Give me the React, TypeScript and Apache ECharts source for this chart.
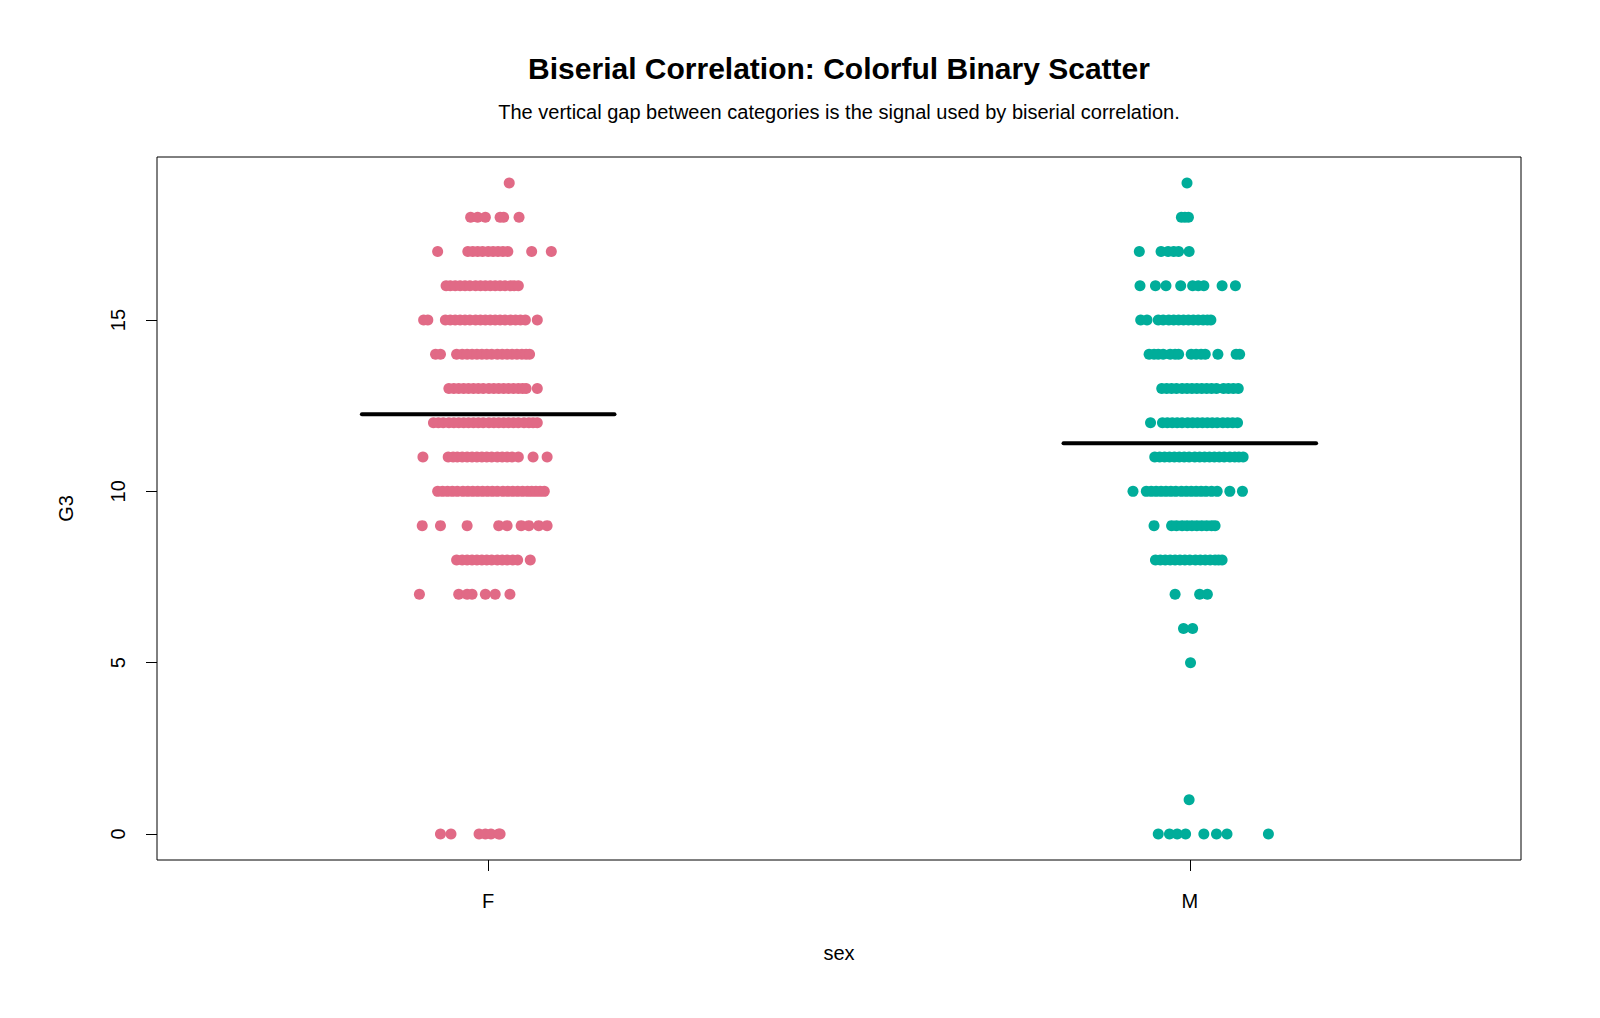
import React, { useEffect, useRef } from "react";
import * as echarts from "echarts";

// Categories and their positions on the x scale
const categories = ["F", "M"];
const categoryPositions = [1, 2];

// Final grade levels present in each group
const gradesF = [19, 18, 17, 16, 15, 14, 13, 12, 11, 10, 9, 8, 7, 0];
const gradesM = [19, 18, 17, 16, 15, 14, 13, 12, 11, 10, 9, 8, 7, 6, 5, 1, 0];

// Horizontal jitter of each plotted point, per grade level (offset from the category position)
const jitterF = [
  [0.03],
  [-0.025, -0.015, -0.004, 0.017, 0.022, 0.044],
  [-0.072, -0.029, -0.022, -0.015, -0.008, 0.0, 0.007, 0.014, 0.021, 0.028, 0.062, 0.09],
  [-0.06, -0.054, -0.047, -0.04, -0.033, -0.026, -0.018, -0.011, -0.004, 0.003, 0.01, 0.017, 0.024, 0.032, 0.037, 0.043],
  [-0.092, -0.086, -0.061, -0.054, -0.047, -0.04, -0.033, -0.026, -0.018, -0.011, -0.004, 0.003, 0.01, 0.017, 0.024, 0.032, 0.039, 0.046, 0.053, 0.07],
  [-0.075, -0.068, -0.045, -0.037, -0.03, -0.023, -0.016, -0.009, -0.002, 0.005, 0.013, 0.02, 0.027, 0.034, 0.041, 0.048, 0.054, 0.059],
  [-0.056, -0.049, -0.042, -0.035, -0.028, -0.021, -0.014, -0.007, 0.001, 0.008, 0.015, 0.022, 0.029, 0.036, 0.043, 0.049, 0.054, 0.07],
  [-0.078, -0.071, -0.064, -0.056, -0.049, -0.042, -0.035, -0.028, -0.021, -0.014, -0.007, 0.001, 0.008, 0.015, 0.022, 0.029, 0.036, 0.043, 0.051, 0.058, 0.064, 0.07],
  [-0.093, -0.057, -0.05, -0.044, -0.037, -0.03, -0.023, -0.016, -0.009, -0.002, 0.005, 0.013, 0.02, 0.027, 0.034, 0.043, 0.064, 0.084],
  [-0.072, -0.065, -0.058, -0.051, -0.044, -0.036, -0.029, -0.022, -0.015, -0.008, -0.001, 0.006, 0.013, 0.021, 0.028, 0.035, 0.042, 0.049, 0.056, 0.062, 0.068, 0.074, 0.08],
  [-0.094, -0.068, -0.03, 0.015, 0.027, 0.047, 0.058, 0.072, 0.084],
  [-0.045, -0.037, -0.03, -0.023, -0.016, -0.009, -0.002, 0.005, 0.013, 0.02, 0.027, 0.035, 0.042, 0.06],
  [-0.098, -0.042, -0.03, -0.023, -0.004, 0.01, 0.031],
  [-0.068, -0.053, -0.013, -0.004, 0.004, 0.015, 0.017],
];

const jitterM = [
  [-0.004],
  [-0.012, -0.007, -0.002],
  [-0.072, -0.041, -0.031, -0.023, -0.016, -0.001],
  [-0.071, -0.049, -0.034, -0.013, 0.004, 0.012, 0.02, 0.046, 0.065],
  [-0.07, -0.061, -0.045, -0.038, -0.03, -0.023, -0.016, -0.009, -0.002, 0.005, 0.012, 0.019, 0.025, 0.03],
  [-0.058, -0.051, -0.045, -0.038, -0.028, -0.021, -0.016, 0.002, 0.009, 0.016, 0.022, 0.04, 0.066, 0.071],
  [-0.04, -0.033, -0.026, -0.019, -0.011, -0.004, 0.003, 0.01, 0.017, 0.024, 0.031, 0.038, 0.048, 0.055, 0.062, 0.069],
  [-0.056, -0.039, -0.032, -0.025, -0.018, -0.011, -0.003, 0.004, 0.011, 0.018, 0.025, 0.032, 0.039, 0.047, 0.054, 0.061, 0.068],
  [-0.05, -0.043, -0.036, -0.029, -0.022, -0.015, -0.008, -0.001, 0.007, 0.014, 0.021, 0.028, 0.035, 0.042, 0.049, 0.057, 0.064, 0.07, 0.076],
  [-0.081, -0.062, -0.055, -0.048, -0.041, -0.034, -0.027, -0.02, -0.012, -0.005, 0.002, 0.009, 0.016, 0.023, 0.031, 0.039, 0.057, 0.075],
  [-0.051, -0.026, -0.019, -0.011, -0.004, 0.003, 0.01, 0.017, 0.024, 0.031, 0.036],
  [-0.049, -0.042, -0.035, -0.028, -0.021, -0.014, -0.007, 0.0, 0.008, 0.015, 0.022, 0.029, 0.036, 0.041, 0.046],
  [-0.021, 0.014, 0.025],
  [-0.009, 0.004],
  [0.001],
  [-0.001],
  [-0.045, -0.029, -0.018, -0.006, 0.02, 0.038, 0.053, 0.112],
];

// Group means of G3
const groupMeans = [12.2533, 11.406];
const meanHalfWidth = 0.18;

// Axis tick values
const yTicks = [0, 5, 10, 15];

const COLORS = ["#E16A86", "#00AD9A"];
const FONT = "'Liberation Sans', Arial, Helvetica, sans-serif";

function buildPoints(center: number, grades: number[], jitter: number[][]) {
  const pts: number[][] = [];
  grades.forEach((g, i) => {
    jitter[i].forEach((off) => pts.push([center + off, g]));
  });
  return pts;
}

export default function App() {
  const ref = useRef<HTMLDivElement>(null);

  useEffect(() => {
    document.body.style.margin = "0";
    if (!ref.current) return;
    const chart = echarts.init(ref.current, null, { renderer: "svg" });

    const gridLeft = 157;
    const gridTop = 157;
    const gridWidth = 1364;
    const gridHeight = 703;
    const plotCenterX = gridLeft + gridWidth / 2;

    const pointsF = buildPoints(categoryPositions[0], gradesF, jitterF);
    const pointsM = buildPoints(categoryPositions[1], gradesM, jitterM);

    const meanSeries = categoryPositions.map((c, i) => ({
      type: "line" as const,
      data: [
        [c - meanHalfWidth, groupMeans[i]],
        [c + meanHalfWidth, groupMeans[i]],
      ],
      showSymbol: false,
      silent: true,
      z: 5,
      lineStyle: { color: "#000", width: 4, cap: "round" as const },
    }));

    chart.setOption({
      animation: false,
      backgroundColor: "#fff",
      textStyle: { fontFamily: FONT },
      grid: {
        left: gridLeft,
        top: gridTop,
        width: gridWidth,
        height: gridHeight,
        show: true,
        borderColor: "#000",
        borderWidth: 1,
        backgroundColor: "transparent",
      },
      xAxis: {
        type: "value",
        min: 0.528,
        max: 2.472,
        axisLine: { show: false, onZero: false },
        splitLine: { show: false },
        axisTick: {
          show: true,
          length: 11,
          customValues: categoryPositions,
          lineStyle: { color: "#000", width: 1 },
        },
        axisLabel: {
          customValues: categoryPositions,
          margin: 31,
          fontSize: 20,
          lineHeight: 20,
          color: "#000",
          fontFamily: FONT,
          formatter: (v: number) => categories[categoryPositions.indexOf(Math.round(v))] ?? "",
        },
      },
      yAxis: {
        type: "value",
        min: -0.76,
        max: 19.76,
        axisLine: { show: false, onZero: false },
        splitLine: { show: false },
        axisTick: {
          show: true,
          length: 11,
          customValues: yTicks,
          lineStyle: { color: "#000", width: 1 },
        },
        axisLabel: {
          customValues: yTicks,
          rotate: 90,
          margin: 29,
          fontSize: 20,
          lineHeight: 20,
          color: "#000",
          fontFamily: FONT,
        },
      },
      graphic: [
        {
          type: "text",
          x: plotCenterX,
          y: 68,
          style: {
            text: "Biserial Correlation: Colorful Binary Scatter",
            fontFamily: FONT,
            fontSize: 30,
            fontWeight: "bold",
            fill: "#000",
            textAlign: "center",
            textVerticalAlign: "middle",
          },
        },
        {
          type: "text",
          x: plotCenterX,
          y: 112,
          style: {
            text: "The vertical gap between categories is the signal used by biserial correlation.",
            fontFamily: FONT,
            fontSize: 20,
            fill: "#000",
            textAlign: "center",
            textVerticalAlign: "middle",
          },
        },
        {
          type: "text",
          x: plotCenterX,
          y: 953,
          style: {
            text: "sex",
            fontFamily: FONT,
            fontSize: 20,
            fill: "#000",
            textAlign: "center",
            textVerticalAlign: "middle",
          },
        },
        {
          type: "text",
          x: 66,
          y: gridTop + gridHeight / 2,
          rotation: Math.PI / 2,
          style: {
            text: "G3",
            fontFamily: FONT,
            fontSize: 20,
            fill: "#000",
            textAlign: "center",
            textVerticalAlign: "middle",
          },
        },
      ],
      series: [
        {
          type: "scatter",
          data: pointsF,
          symbol: "circle",
          symbolSize: 11,
          itemStyle: { color: COLORS[0], opacity: 1 },
          silent: true,
          z: 2,
        },
        {
          type: "scatter",
          data: pointsM,
          symbol: "circle",
          symbolSize: 11,
          itemStyle: { color: COLORS[1], opacity: 1 },
          silent: true,
          z: 2,
        },
        ...meanSeries,
      ],
    });

    return () => chart.dispose();
  }, []);

  return <div ref={ref} style={{ width: 1600, height: 1018 }} />;
}
